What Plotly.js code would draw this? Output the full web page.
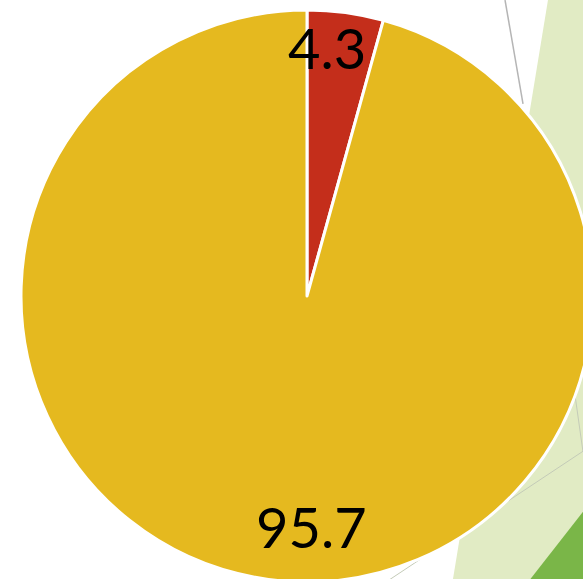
<!DOCTYPE html>
<html>
<head>
<meta charset="utf-8">
<script src="https://cdn.plot.ly/plotly-3.0.1.min.js"></script>
<style>
html,body{margin:0;padding:0;overflow:hidden;background:#fff;width:583px;height:579px;}
#chart{width:600px;height:600px;}
</style>
</head>
<body>
<div id="chart"></div>
<script>
// Data
const categories = ["A", "B"];
const values = [4.3, 95.7];
const sliceColors = ["#c42e1b", "#e5b91f"];
const valueLabels = ["4.3", "95.7"];

const W = 600, H = 600;
function px(x){ return x / W; }
function py(y){ return 1 - y / H; }
function path(pts){
  return "M " + pts.map(p => px(p[0]).toFixed(4) + "," + py(p[1]).toFixed(4)).join(" L ") + " Z";
}
function seg(a, b){
  return "M " + px(a[0]).toFixed(4) + "," + py(a[1]).toFixed(4) + " L " + px(b[0]).toFixed(4) + "," + py(b[1]).toFixed(4);
}

const shapes = [
  {type:"path", xref:"paper", yref:"paper", layer:"below",
   path: path([[548,0],[583,0],[600,0],[600,600],[450,600],[453,579]]),
   fillcolor:"#e1ebc4", line:{width:0}},
  {type:"path", xref:"paper", yref:"paper", layer:"below",
   path: path([[600,490],[600,600],[514,600]]),
   fillcolor:"#7ab648", line:{width:0}},
  {type:"path", xref:"paper", yref:"paper", layer:"below",
   path: seg([505,0],[523,104]), line:{color:"#b5b5b5", width:1.5}},
  {type:"path", xref:"paper", yref:"paper", layer:"below",
   path: seg([600,440],[380,586]), line:{color:"#c4cbb8", width:1}},
  {type:"path", xref:"paper", yref:"paper", layer:"below",
   path: seg([575,395],[583,452]), line:{color:"#c4cbb8", width:1}}
];

const labelPos = [[327, 47], [311, 526]];
const annotations = valueLabels.map((t, i) => ({
  text: t, xref:"paper", yref:"paper",
  x: px(labelPos[i][0]), y: py(labelPos[i][1]),
  xanchor:"center", yanchor:"middle", showarrow:false,
  font:{family:"Lato, 'Open Sans', sans-serif", size:56, color:"#000"}
}));

const trace = {
  type:"pie",
  labels: categories,
  values: values,
  sort:false,
  direction:"clockwise",
  rotation:0,
  textinfo:"none",
  hoverinfo:"none",
  marker:{colors: sliceColors, line:{color:"#ffffff", width:3}},
  domain:{x:[px(21), px(593)], y:[py(582), py(10)]},
  showlegend:false
};

const layout = {
  width: W, height: H,
  margin:{l:0, r:0, t:0, b:0, pad:0},
  paper_bgcolor:"rgba(0,0,0,0)",
  plot_bgcolor:"rgba(0,0,0,0)",
  showlegend:false,
  shapes: shapes,
  annotations: annotations
};

Plotly.newPlot("chart", [trace], layout, {staticPlot:true, displayModeBar:false});
</script>
</body>
</html>
